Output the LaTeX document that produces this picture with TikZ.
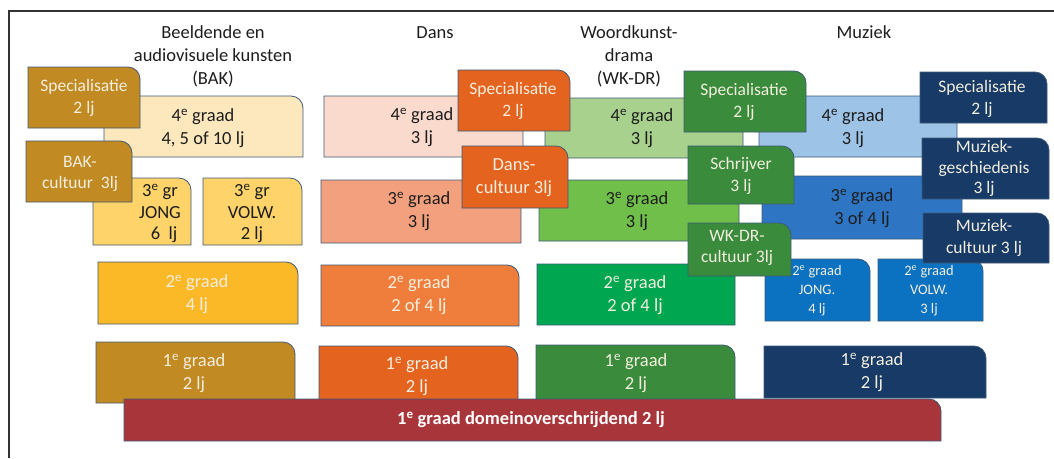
\documentclass[tikz,border=0pt]{standalone}
\usepackage{fontspec}
\setmainfont{Carlito}
\definecolor{bakdark}{HTML}{C28A22}
\definecolor{bakcream}{HTML}{FCE8BC}
\definecolor{bakthree}{HTML}{FDD36A}
\definecolor{baktwo}{HTML}{FBB827}
\definecolor{dansfour}{HTML}{FADACD}
\definecolor{dansthree}{HTML}{F3A07E}
\definecolor{danstwo}{HTML}{EF7E3D}
\definecolor{dansdark}{HTML}{E3631F}
\definecolor{wkfour}{HTML}{A8D18D}
\definecolor{wkthree}{HTML}{70BF4A}
\definecolor{wktwo}{HTML}{00A650}
\definecolor{wkdark}{HTML}{3A8B3B}
\definecolor{muzfour}{HTML}{9DC3E6}
\definecolor{muzthree}{HTML}{2E75C4}
\definecolor{muztwo}{HTML}{0A72C1}
\definecolor{muzdark}{HTML}{173B66}
\definecolor{redbar}{HTML}{A8353A}
\definecolor{boxline}{HTML}{3F5A78}
\definecolor{lighttxt}{HTML}{F2EEDF}
\definecolor{darktxt}{HTML}{1E1E1E}
\newcommand\fbig{\fontsize{18.5}{23}\selectfont}
\tikzset{
  boxshape/.style={draw=boxline, line width=0.8pt},
  boxtext/.style={align=center, inner sep=0pt},
  dk/.style={text=darktxt, font=\fbig},
  dkthree/.style={text=darktxt, font=\fontsize{18.5}{21.5}\selectfont},
  lt/.style={text=lighttxt, font=\fbig},
  ltm/.style={text=lighttxt, font=\fontsize{17.5}{21.5}\selectfont},
  ltmt/.style={text=lighttxt, font=\fontsize{17.5}{20.5}\selectfont},
  lts/.style={text=lighttxt, font=\fontsize{14.5}{19}\selectfont},
  rd/.style={text=white, font=\fbig\bfseries},
  header/.style={align=center, inner sep=0pt, text=darktxt, font=\fbig},
  frame/.style={draw=black!80, line width=1.2pt}
}
% name, fill, text style, x1, y1, x2, y2, text centre, text
\newcommand\bx[9]{%
  \path[boxshape, fill=#2] (#4,#5) -- ({#6-12},#5) .. controls ({#6-5.4},#5) and (#6,{#5+5.4}) .. (#6,{#5+12}) -- (#6,#7) -- (#4,#7) -- cycle;
  \node[boxtext,#3] (#1) at (#8) {#9};
}
\begin{document}
\begin{tikzpicture}[x=1pt,y=-1pt]
\useasboundingbox (0,0) rectangle (1054,458);
\fill[white] (0,0) rectangle (1054,458);
\coordinate (fBL) at (9,458);
\coordinate (fTL) at (9,11);
\coordinate (fTR) at (1054,11);
\draw[frame] (fBL) -- (fTL) -- (fTR);
% headers
\node[header] (hbak) at (213,56.5) {Beeldende en\\audiovisuele kunsten\\(BAK)};
\node[header] (hdans) at (435,33) {Dans};
\node[header] (hwk) at (629,56) {Woordkunst-\\drama\\(WK-DR)};
\node[header] (hmuz) at (864,32) {Muziek};
% BAK
\bx{bakfour}{bakcream}{dk}{104}{96}{303}{157}{203,128}{4\textsuperscript{e} graad\\4, 5 of 10 lj}
\bx{bakthreej}{bakthree}{dkthree}{93}{178}{191}{245}{160,213.5}{3\textsuperscript{e} gr\\JONG\\\ \ 6\ \ lj}
\bx{bakthreev}{bakthree}{dkthree}{203}{178}{302}{245}{252,213.5}{3\textsuperscript{e} gr\\VOLW.\\2 lj}
\bx{baktwob}{baktwo}{lt}{98}{262}{298}{324}{197,294}{2\textsuperscript{e} graad\\4 lj}
\bx{bakone}{bakdark}{lt}{96}{342}{295}{403}{194,373.5}{1\textsuperscript{e} graad\\2 lj}
% Dans
\bx{dansfourb}{dansfour}{dk}{324}{96}{523}{157}{422,127}{4\textsuperscript{e} graad\\3 lj}
\bx{dansthreeb}{dansthree}{dk}{321}{180}{521}{243}{419,211}{3\textsuperscript{e} graad\\3 lj}
\bx{danstwob}{danstwo}{lt}{321}{265}{519}{326}{419,295}{2\textsuperscript{e} graad\\2 of 4 lj}
\bx{dansone}{dansdark}{lt}{319}{346}{518}{402}{417,376}{1\textsuperscript{e} graad\\2 lj}
% WK-DR
\bx{wkfourb}{wkfour}{dk}{545}{98}{743}{158}{642,128}{4\textsuperscript{e} graad\\3 lj}
\bx{wkthreeb}{wkthree}{dk}{539}{180}{739}{241}{637,211}{3\textsuperscript{e} graad\\3 lj}
\bx{wktwob}{wktwo}{lt}{537}{264}{735}{325}{635,295}{2\textsuperscript{e} graad\\2 of 4 lj}
\bx{wkone}{wkdark}{lt}{536}{345}{735}{402}{636,373.5}{1\textsuperscript{e} graad\\2 lj}
% Muziek
\bx{muzfourb}{muzfour}{dk}{759}{96}{957}{157}{853,128}{4\textsuperscript{e} graad\\3 lj}
\bx{muzthreeb}{muzthree}{dk}{762}{176}{962}{239}{862,208}{3\textsuperscript{e} graad\\3 of 4 lj}
\bx{muztwoj}{muztwo}{lts}{765}{259}{870}{321}{817,290.5}{2\textsuperscript{e} graad\\JONG.\\4 lj}
\bx{muztwov}{muztwo}{lts}{878}{259}{983}{321}{929,290.5}{2\textsuperscript{e} graad\\VOLW.\\3 lj}
\bx{muzone}{muzdark}{lt}{764}{346}{986}{398}{872,372.5}{1\textsuperscript{e} graad\\2 lj}
% overlays
\bx{bakspec}{bakdark}{ltm}{28}{67}{140}{128}{84,98}{Specialisatie\\2 lj}
\bx{bakcult}{bakdark}{ltm}{26}{141}{132}{202}{80,174}{BAK-\\cultuur\ \ 3lj}
\bx{dansspec}{dansdark}{ltm}{458}{70}{570}{131}{513,101}{Specialisatie\\2 lj}
\bx{danscult}{dansdark}{lt}{462}{146}{568}{208}{514,178}{Dans-\\cultuur 3lj}
\bx{wkspec}{wkdark}{ltm}{684}{71}{806}{132}{744,102}{Specialisatie\\2 lj}
\bx{wkschr}{wkdark}{ltm}{688}{146}{794}{204}{741,176}{Schrijver\\3 lj}
\bx{wkcult}{wkdark}{ltm}{688}{223}{791}{276}{737,248}{WK-DR-\\cultuur 3lj}
\bx{muzspec}{muzdark}{ltm}{920}{72}{1047}{123}{982,99}{Specialisatie\\2 lj}
\bx{muzgesch}{muzdark}{ltmt}{922}{138}{1049}{199}{984,168.5}{Muziek-\\geschiedenis\\3 lj}
\bx{muzcult}{muzdark}{ltm}{923}{213}{1049}{263}{984,238}{Muziek-\\cultuur 3 lj}
% cross-domain bar
\bx{domein}{redbar}{rd}{124}{399}{941}{441}{531,420}{1\textsuperscript{e} graad domeinoverschrijdend 2 lj}
\end{tikzpicture}
\end{document}
